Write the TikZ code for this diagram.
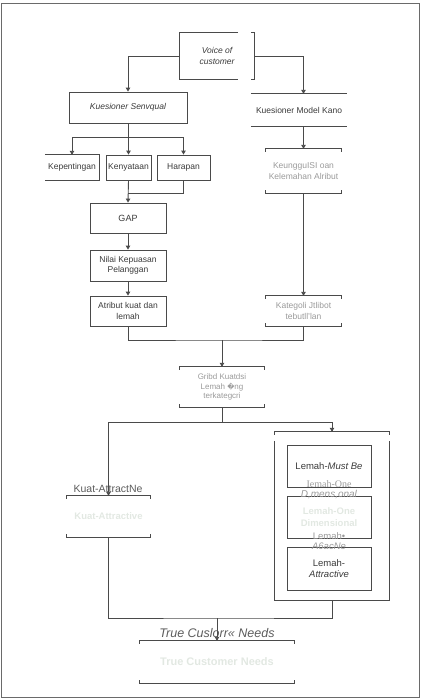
\documentclass[tikz,border=0pt]{standalone}
\usepackage{fontspec}
\setmainfont{Liberation Sans}
\newfontfamily\serifff{Liberation Serif}
\newfontfamily\djv{DejaVu Sans}
\usetikzlibrary{arrows.meta,calc}
\definecolor{lnc}{HTML}{4A4A4A}
\definecolor{txt}{HTML}{3A3A3A}
\definecolor{grt}{HTML}{9A9A9A}
\definecolor{fnt}{HTML}{E2E8E2}
\definecolor{frm}{HTML}{6A6A6A}
\newcommand{\fs}[1]{\fontsize{#1}{\fpeval{#1*1.2}}\selectfont}
\newcommand{\brkbox}[1]{%
  \draw[ln] ([yshift=-3pt]#1.north west) -- (#1.north west) -- (#1.north east) -- ([yshift=-3pt]#1.north east);
  \draw[ln] ([yshift=3pt]#1.south west) -- (#1.south west) -- (#1.south east) -- ([yshift=3pt]#1.south east);}
\begin{document}
\begin{tikzpicture}[x=1pt,y=-1pt,
  ln/.style={draw=lnc,line width=0.9pt},
  arr/.style={ln,-{Triangle[length=4pt,width=4.5pt]}},
  plain/.style={inner sep=1pt,align=center,text=txt,font=\fs{8.5}},
  box/.style={plain,draw=lnc,line width=0.9pt},
]
\useasboundingbox (0,0) rectangle (421,699);
\draw[draw=frm,line width=1pt] (1.5,3.5) rectangle (419,697);

% left column
\node[plain,minimum width=74pt,minimum height=46pt,font=\itshape\fs{8.5}] (voc) at (217,56) {Voice of\\customer};
\draw[ln] ($(voc.north east)+(-16,0)$) -- (voc.north west) -- (voc.south west) -- ($(voc.south east)+(-16,0)$);
\draw[ln] ($(voc.north east)+(-3,0)$) -- (voc.north east) -- (voc.south east) -- ($(voc.south east)+(-3,0)$);

\node[box,minimum width=118pt,minimum height=31pt,font=\itshape\fs{8.5}] (servq) at (128,107.5) {Kuesioner Senvqual};
\node[plain,minimum width=96pt,minimum height=32pt] (kano) at (299,110) {Kuesioner Model Kano};
\draw[ln] (kano.north west) -- (kano.north east);
\draw[ln] (kano.south west) -- (kano.south east);

\node[plain,minimum width=54pt,minimum height=25pt] (kep) at (72,167.5) {Kepentingan};
\draw[ln] (kep.north west) -- (kep.north east) -- (kep.south east) -- (kep.south west);
\node[box,minimum width=45pt,minimum height=25pt] (keny) at (128.5,167.5) {Kenyataan};
\node[box,minimum width=53pt,minimum height=25pt] (har) at (183.5,167.5) {Harapan};

\node[box,minimum width=76pt,minimum height=30pt,font=\fs{9}] (gap) at (128,218) {GAP};
\node[box,minimum width=76pt,minimum height=31pt] (nilai) at (128,265.5) {Nilai Kepuasan\\Pelanggan};
\node[box,minimum width=76pt,minimum height=30pt] (atr) at (128,311) {Atribut kuat dan\\lemah};

% right column
\node[plain,minimum width=75pt,minimum height=44pt,text=grt] (keung) at (303.5,171) {KeungguISI oan\\Kelemahan Alribut};
\brkbox{keung}
\node[plain,minimum width=75pt,minimum height=30pt,text=grt] (kateg) at (303.5,311) {Kategoli Jtlibot\\tebutll'lan};
\brkbox{kateg}

\node[plain,minimum width=84pt,minimum height=40pt,text=grt,font=\fs{8}] (akl) at (222,387) {Gribd Kuatdsi\\Lemah {\djv\fs{7}�}ng\\terkategcri};
\brkbox{akl}

% lower part
\node[plain,minimum width=84pt,minimum height=41pt,text=fnt,font=\bfseries\fs{9.5}] (kuat) at (108.5,516.5) {Kuat-Attractive};
\brkbox{kuat}
\node[plain,font=\fs{10.5},text=lnc!90] (kuatl) at (108,489) {Kuat-AttractNe};

\node[plain,minimum width=114pt,minimum height=168pt] (cont) at (332,516) {};
\draw[ln] ([yshift=-3pt]cont.north west) -- (cont.north west) -- (cont.north east) -- ([yshift=-3pt]cont.north east);
\draw[ln] ([yshift=-9pt]cont.north west) -- (cont.south west) -- (cont.south east) -- ([yshift=-9pt]cont.north east);

\node[box,minimum width=84pt,minimum height=42pt,font=\fs{9.5}] (mb) at (329,466) {Lemah-\textit{Must Be}};
\node[box,minimum width=84pt,minimum height=42pt,text=fnt,font=\bfseries\fs{9.5}] (od) at (329,517) {Lemah-One\\Dimensional};
\node[box,minimum width=84pt,minimum height=43pt,font=\fs{9.5}] (at) at (329,568.5) {Lemah-\\\textit{Attractive}};
\node[plain,text=grt,font=\fs{10}] (odl) at (329,490) {{\serifff Iemah-One}\\[-2pt]\textit{D,mens,onal}};
\node[plain,text=grt,font=\fs{9.5}] (atl) at (329,541) {Lemah•\\[-2pt]\textit{A6acNe}};

\node[plain,minimum width=154pt,minimum height=42pt,text=fnt,font=\bfseries\fs{11}] (tcn) at (217,662) {True Customer Needs};
\brkbox{tcn}
\node[plain,font=\itshape\fs{12.5},text=lnc!90] (tcnl) at (217,633) {True Cuslorr« Needs};

% connectors
\draw[arr] (voc.west) -| (servq.north);
\draw[arr] (voc.east) -| (keung.north |- kano.north);
\draw[arr] (keung.north |- kano.south) -- (keung.north);
\coordinate (sb) at (128,137);
\draw[ln] (servq.south) -- (sb);
\draw[ln] (kep.north |- sb) -- (har.north |- sb);
\draw[arr] (kep.north |- sb) -- (kep.north);
\draw[arr] (keny.north |- sb) -- (keny.north);
\draw[arr] (har.north |- sb) -- (har.north);
\coordinate (hj) at (128,193);
\draw[arr] (keny.south) -- (gap.north);
\draw[ln] (har.south) |- (hj);
\draw[arr] (gap.south) -- (nilai.north);
\draw[arr] (nilai.south) -- (atr.north);
\draw[arr] (keung.south) -- (kateg.north);
\coordinate (j1) at (222,340);
\draw[ln] (atr.south) |- (j1) -| (kateg.south);
\draw[arr] (j1) -- (akl.north);
\coordinate (j2) at (222,422);
\draw[ln] (akl.south) -- (j2);
\draw[ln] (kuat.north |- j2) -| (cont.north);
\draw[arr] (cont.north |- j2) -- (cont.north);
\draw[arr] (kuat.north |- j2) -- (kuat.north);
\coordinate (j3) at (217,618);
\draw[ln] (kuat.south) |- (j3) -| (cont.south);
\draw[arr] (j3) -- (tcn.north);
\end{tikzpicture}
\end{document}
